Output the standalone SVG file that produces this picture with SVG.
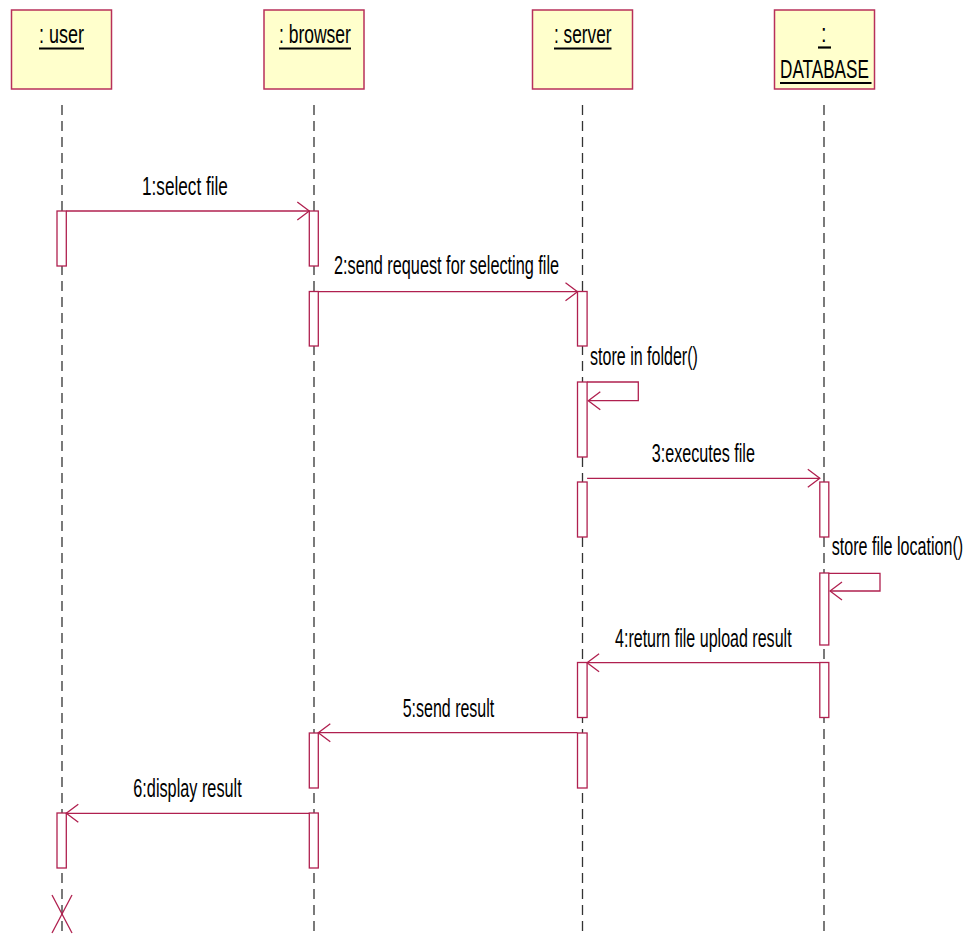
<svg xmlns="http://www.w3.org/2000/svg" width="972" height="934" viewBox="0 0 972 934">
<defs>
<style>
.obj{fill:#FFFFCC;stroke:#B8305A;stroke-width:1.5}
.t{font-family:"Liberation Sans",Arial,sans-serif;font-size:25px;fill:#000}
.ul{stroke:#000;stroke-width:2.2}
.life{stroke:#333;stroke-width:1.3;stroke-dasharray:10 6;fill:none}
.act{fill:#fff;stroke:#B0204F;stroke-width:1.3}
.msg{stroke:#B0204F;stroke-width:1.3;fill:none}
</style>
<marker id="open" viewBox="-13 -10 14 20" refX="0" refY="0" markerWidth="14" markerHeight="20" markerUnits="userSpaceOnUse" orient="auto">
<path d="M-12,-9 L0,0 L-12,9" fill="none" stroke="#B0204F" stroke-width="1.3"/>
</marker>
</defs>
<rect width="972" height="934" fill="#fff"/>

<g id="lifelines">
<line class="life" x1="62" y1="105" x2="62" y2="932"/>
<line class="life" x1="314" y1="105" x2="314" y2="932"/>
<line class="life" x1="582.5" y1="105" x2="582.5" y2="932"/>
<line class="life" x1="824" y1="105" x2="824" y2="932"/>
</g>

<g id="user">
<rect class="obj" x="11.5" y="10" width="100" height="79"/>
<text class="t" transform="translate(39,43) scale(0.72,1)">: user</text>
<line class="ul" x1="39" y1="48.5" x2="84" y2="48.5"/>
</g>
<g id="browser">
<rect class="obj" x="264" y="10" width="100" height="79"/>
<text class="t" transform="translate(279,43) scale(0.70,1)">: browser</text>
<line class="ul" x1="279" y1="48.5" x2="351" y2="48.5"/>
</g>
<g id="server">
<rect class="obj" x="532.5" y="10" width="100" height="79"/>
<text class="t" transform="translate(554,43) scale(0.69,1)">: server</text>
<line class="ul" x1="554" y1="48.5" x2="611.5" y2="48.5"/>
</g>
<g id="database">
<rect class="obj" x="774.5" y="10" width="100" height="79"/>
<text class="t" transform="translate(821,42) scale(0.8,1)">:</text>
<line class="ul" x1="818" y1="47.5" x2="831" y2="47.5"/>
<text class="t" transform="translate(780,78) scale(0.686,1)">DATABASE</text>
<line class="ul" x1="780" y1="83" x2="871.5" y2="83"/>
</g>

<g id="activations">
<rect class="act" x="57" y="211" width="9.3" height="55"/>
<rect class="act" x="57" y="813" width="9.3" height="55"/>
<rect class="act" x="309.3" y="211" width="9" height="55"/>
<rect class="act" x="309.3" y="291.5" width="9" height="54.5"/>
<rect class="act" x="309.3" y="733" width="9" height="55"/>
<rect class="act" x="309.3" y="813" width="9" height="55"/>
<rect class="act" x="577.5" y="291.5" width="9.6" height="54.5"/>
<rect class="act" x="577.5" y="382" width="9.6" height="75"/>
<rect class="act" x="577.5" y="482" width="9.6" height="55"/>
<rect class="act" x="577.5" y="662.5" width="9.6" height="55"/>
<rect class="act" x="577.5" y="733" width="9.6" height="55"/>
<rect class="act" x="819.8" y="482" width="9" height="55"/>
<rect class="act" x="819.8" y="573" width="9" height="72"/>
<rect class="act" x="819.8" y="662.5" width="9" height="55"/>
</g>

<g id="connectors">
<line class="msg" x1="66.3" y1="211" x2="309.3" y2="211" marker-end="url(#open)"/>
<line class="msg" x1="318.3" y1="291.7" x2="577.5" y2="291.7" marker-end="url(#open)"/>
<polyline class="msg" points="587.1,382 638.3,382 638.3,400.7 588.3,400.7" marker-end="url(#open)"/>
<line class="msg" x1="587.1" y1="478.3" x2="819.8" y2="478.3" marker-end="url(#open)"/>
<polyline class="msg" points="828.8,573.3 880,573.3 880,591 830,591" marker-end="url(#open)"/>
<line class="msg" x1="819.8" y1="662.7" x2="587.1" y2="662.7" marker-end="url(#open)"/>
<line class="msg" x1="577.5" y1="732.7" x2="318.3" y2="732.7" marker-end="url(#open)"/>
<line class="msg" x1="309.3" y1="813.3" x2="66.3" y2="813.3" marker-end="url(#open)"/>
<line class="msg" x1="52" y1="895" x2="72" y2="933"/>
<line class="msg" x1="72" y1="895" x2="52" y2="933"/>
</g>

<g id="labels">
<text class="t" transform="translate(142,195) scale(0.687,1)">1:select file</text>
<text class="t" transform="translate(334,274) scale(0.651,1)">2:send request for selecting file</text>
<text class="t" transform="translate(590,365) scale(0.642,1)">store in folder()</text>
<text class="t" transform="translate(651.7,461.7) scale(0.646,1)">3:executes file</text>
<text class="t" transform="translate(831.7,555) scale(0.644,1)">store file location()</text>
<text class="t" transform="translate(615,646.5) scale(0.642,1)">4:return file upload result</text>
<text class="t" transform="translate(402.7,716.5) scale(0.640,1)">5:send result</text>
<text class="t" transform="translate(133.3,796.7) scale(0.650,1)">6:display result</text>
</g>
</svg>
